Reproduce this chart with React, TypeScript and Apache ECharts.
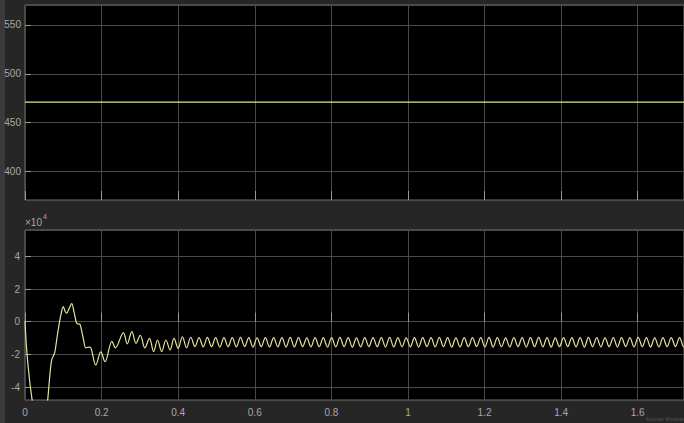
import { useEffect, useRef } from "react";
import * as echarts from "echarts";

// Shared time axis (s)
const X_MAX = 1.721;
const X_TICK = 0.2;

// Upper scope: DC link voltage (V)
const dcTimes = [0, 1.75];
const dcVolts = [471.1, 471.1];
const dcRange = [371.0, 570.4];

// Lower scope: power, in units of 1e4 (axis shows x10^4)
const startTimes = [
  0.0, 0.004, 0.012, 0.019, 0.03, 0.042, 0.052, 0.059, 0.066, 0.07, 0.074, 0.078,
  0.086, 0.094, 0.1, 0.105, 0.109, 0.115, 0.122, 0.128, 0.135, 0.14, 0.144,
  0.152, 0.159, 0.166, 0.172, 0.185, 0.198, 0.209, 0.227, 0.236, 0.257, 0.267,
  0.279, 0.29, 0.301, 0.313, 0.325, 0.336, 0.346, 0.357, 0.368, 0.379, 0.389,
  0.4, 0.411, 0.422,
];
const startPower = [
  0.05, -1.6, -3.6, -4.85, -6.8, -7.2, -6.2, -4.85, -3.0, -2.3, -2.1, -1.85,
  -0.6, 0.45, 0.92, 0.62, 0.52, 0.8, 1.1, 0.6, -0.1, -0.14, -0.18,
  -1.0, -1.6, -1.55, -1.6, -2.65, -1.85, -2.45, -1.2, -1.6, -0.67, -1.36,
  -0.61, -1.32, -0.83, -1.6, -1.02, -1.83, -1.12, -1.83, -1.12, -1.73, -1.02,
  -1.63, -0.92, -1.6,
];
// Settled ripple, sampled every half period from steadyStart
const steadyStart = 0.433;
const steadyStep = 0.010817;
const steadyPower = [
  -0.95, -1.52, -0.97, -1.54, -0.96, -1.53, -0.98, -1.55, -0.97, -1.53,
  -0.98, -1.54, -0.96, -1.52, -0.97, -1.55, -0.99, -1.53, -0.98, -1.54,
  -0.97, -1.53, -0.98, -1.55, -0.96, -1.54, -0.97, -1.52, -0.99, -1.54,
  -0.98, -1.53, -0.97, -1.55, -0.98, -1.54, -0.96, -1.53, -0.97, -1.55,
  -0.99, -1.54, -0.98, -1.52, -0.97, -1.53, -0.98, -1.55, -0.96, -1.54,
  -0.97, -1.53, -0.99, -1.54, -0.98, -1.55, -0.97, -1.52, -0.98, -1.54,
  -0.96, -1.53, -0.97, -1.55, -0.99, -1.54, -0.98, -1.53, -0.97, -1.52,
  -0.98, -1.54, -0.96, -1.55, -0.97, -1.53, -0.99, -1.54, -0.98, -1.52,
  -0.97, -1.55, -0.98, -1.53, -0.96, -1.54, -0.97, -1.55, -0.99, -1.53,
  -0.98, -1.52, -0.97, -1.54, -0.98, -1.55, -0.96, -1.53, -0.97, -1.54,
  -0.99, -1.53, -0.98, -1.55, -0.97, -1.52, -0.98, -1.54, -0.96, -1.53,
  -0.97, -1.55, -0.99, -1.54, -0.98, -1.53, -0.97, -1.52, -0.98, -1.54,
  -0.97,
];
const powerRange = [-4.79, 5.61];

const TRACE = "#e4e49c";
const LABEL = "#a8a8a8";
const GRID = "#4a4a4a";
const TICK = "#9a9a9a";
const FONT = "'Liberation Sans', Arial, sans-serif";

export default function App() {
  const ref = useRef<HTMLDivElement>(null);

  useEffect(() => {
    if (!ref.current) return;
    const chart = echarts.init(ref.current, null, { renderer: "svg" });

    const dcData = dcTimes.map((t, i) => [t, dcVolts[i]]);
    const powerData: number[][] = startTimes.map((t, i) => [t, startPower[i]]);
    steadyPower.forEach((v, i) => powerData.push([steadyStart + i * steadyStep, v]));

    const label = { color: LABEL, fontSize: 10, fontFamily: FONT };
    const splitLine = { show: true, lineStyle: { color: GRID, width: 1 } };
    const gridBase = {
      left: 25,
      right: 0,
      show: true,
      backgroundColor: "#000000",
      borderColor: "#6e6e6e",
      borderWidth: 1,
      outerBoundsMode: "none",
    };
    const xBase = {
      type: "value",
      min: 0,
      max: X_MAX,
      interval: X_TICK,
      axisLine: { show: false },
      axisTick: { show: true, inside: true, length: 9, lineStyle: { color: TICK } },
      splitLine,
    };
    const yBase = {
      type: "value",
      axisLine: { show: false },
      axisTick: { show: true, inside: true, length: 6, lineStyle: { color: TICK } },
      splitLine,
    };

    chart.setOption({
      animation: false,
      backgroundColor: "#262626",
      grid: [
        { ...gridBase, top: 5, height: 195 },
        { ...gridBase, top: 230, height: 170 },
      ],
      xAxis: [
        { ...xBase, gridIndex: 0, axisLabel: { show: false } },
        {
          ...xBase,
          gridIndex: 1,
          axisLabel: { ...label, margin: 7, showMaxLabel: false },
        },
      ],
      yAxis: [
        {
          ...yBase,
          gridIndex: 0,
          min: dcRange[0],
          max: dcRange[1],
          splitNumber: 4,
          axisLabel: { ...label, margin: 4, showMinLabel: false, showMaxLabel: false },
        },
        {
          ...yBase,
          gridIndex: 1,
          min: powerRange[0],
          max: powerRange[1],
          splitNumber: 5,
          axisLabel: { ...label, margin: 5, showMinLabel: false, showMaxLabel: false },
        },
      ],
      graphic: [
        { type: "rect", x: 0, y: 0, shape: { width: 5, height: 423 }, style: { fill: "#3a3a3a" }, silent: true },
        {
          type: "text",
          x: 25,
          y: 217,
          style: { text: "\u00d710", fill: LABEL, fontSize: 10, fontFamily: FONT, verticalAlign: "top" },
        },
        {
          type: "text",
          x: 43,
          y: 213,
          style: { text: "4", fill: LABEL, fontSize: 7, fontFamily: FONT, verticalAlign: "top" },
        },
        {
          type: "text",
          x: 646,
          y: 416,
          style: {
            text: "Activate Windows",
            fill: "rgba(200,200,200,0.3)",
            fontSize: 5,
            fontFamily: FONT,
            verticalAlign: "top",
          },
        },
      ],
      series: [
        {
          type: "line",
          xAxisIndex: 0,
          yAxisIndex: 0,
          data: dcData,
          showSymbol: false,
          lineStyle: { color: TRACE, width: 1.2 },
        },
        {
          type: "line",
          xAxisIndex: 1,
          yAxisIndex: 1,
          data: powerData,
          smooth: 0.35,
          showSymbol: false,
          lineStyle: { color: TRACE, width: 1.2 },
        },
      ],
    });

    return () => chart.dispose();
  }, []);

  return (
    <div
      ref={ref}
      style={{ position: "absolute", left: 0, top: 0, width: 684, height: 423 }}
    />
  );
}
